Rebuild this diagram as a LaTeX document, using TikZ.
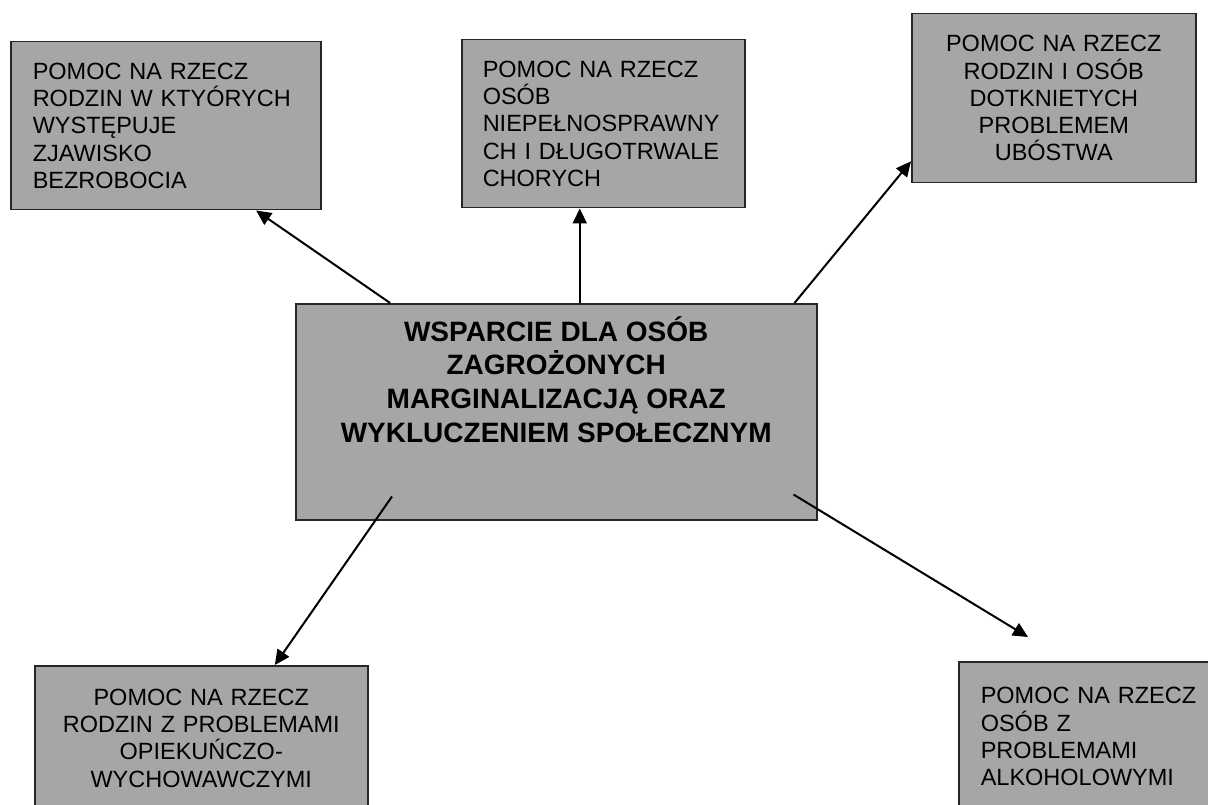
\documentclass[tikz,border=0pt]{standalone}
\usepackage{fontspec}
\setsansfont{Liberation Sans}
\usetikzlibrary{arrows.meta, calc}

\begin{document}
\begin{tikzpicture}[
  x=1pt, y=-1pt,
  every node/.style={font=\sffamily},
  box/.style={rectangle, draw=black!85, line width=1.5pt, fill=black!35, anchor=north west, inner ysep=0pt, inner xsep=22pt, align=left, font=\sffamily\fontsize{23.5}{27.25}\selectfont},
  mainbox/.style={box, align=center, inner sep=0pt, font=\sffamily\bfseries\fontsize{28}{33.7}\selectfont},
  arr/.style={-{Triangle[length=15pt, width=14pt]}, line width=2pt}
]
\useasboundingbox (0,0) rectangle (1208,805);

% Central box
\node[mainbox, minimum width=521pt, minimum height=216pt] (core) at (295,303)
  {WSPARCIE DLA OSÓB\\ZAGROŻONYCH\\MARGINALIZACJĄ ORAZ\\WYKLUCZENIEM SPOŁECZNYM\rule[-65pt]{0pt}{0pt}};

% Top row
\node[box, text width=266pt, minimum height=168pt] (unemp) at (10,41)
  {POMOC NA RZECZ\\RODZIN W KTYÓRYCH\\WYSTĘPUJE\\ZJAWISKO\\BEZROBOCIA};
\node[box, inner xsep=21pt, text width=241pt, minimum height=168pt] (disab) at (461,39)
  {POMOC NA RZECZ\\OSÓB\\NIEPEŁNOSPRAWNY\\CH I DŁUGOTRWALE\\CHORYCH};
\node[box, align=center, text width=240pt, minimum height=169pt] (pov) at (911,13)
  {POMOC NA RZECZ\\RODZIN I OSÓB\\DOTKNIETYCH\\PROBLEMEM\\UBÓSTWA};

% Bottom row
\node[box, align=center, text width=289pt, minimum height=145pt] (famcare) at (34,665)
  {POMOC NA RZECZ\\RODZIN Z PROBLEMAMI\\OPIEKUŃCZO-\\WYCHOWAWCZYMI};
\node[box, text width=240pt, minimum height=150pt] (alco) at (958,661)
  {POMOC NA RZECZ\\OSÓB Z\\PROBLEMAMI\\ALKOHOLOWYMI};

% Arrows
\coordinate (up) at ($(core.north west)!0.545!(core.north east)$);
\draw[arr] ($(core.north west)!0.182!(core.north east)$) -- ($(unemp.south west)!0.79!(unemp.south east)$);
\draw[arr] (up) -- (up |- disab.south);
\draw[arr] ($(core.north west)!0.956!(core.north east)$) -- ($(pov.north west)!0.87!(pov.south west)$);
\draw[arr] ([shift={(97,-24)}]core.south west) -- ($(famcare.north west)!0.72!(famcare.north east)$);
\draw[arr] ([shift={(-24,-26)}]core.south east) -- ([shift={(70,-24)}]alco.north west);

\end{tikzpicture}
\end{document}
